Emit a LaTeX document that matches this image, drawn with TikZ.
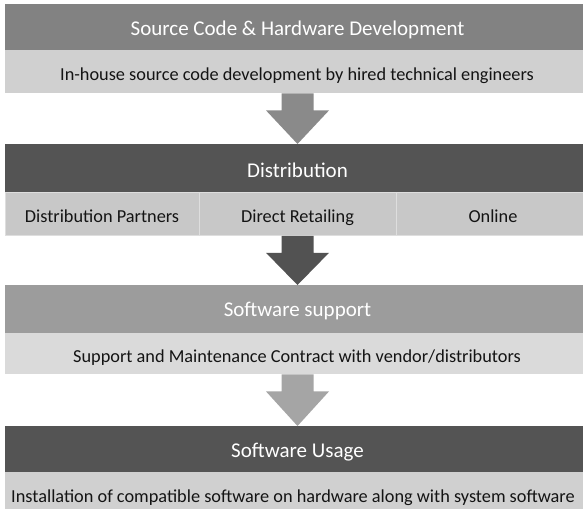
\documentclass[tikz,border=0pt]{standalone}
\usepackage{fontspec}
\setmainfont{Carlito}
\usetikzlibrary{calc}
\definecolor{hOne}{RGB}{130,130,130}
\definecolor{sOne}{RGB}{208,208,208}
\definecolor{aOne}{RGB}{138,138,138}
\definecolor{hTwo}{RGB}{84,84,84}
\definecolor{sTwo}{RGB}{200,200,200}
\definecolor{aTwo}{RGB}{82,82,82}
\definecolor{hThree}{RGB}{156,156,156}
\definecolor{sThree}{RGB}{218,218,218}
\definecolor{aThree}{RGB}{165,165,165}
\definecolor{hFour}{RGB}{84,84,84}
\definecolor{sFour}{RGB}{208,208,208}
\definecolor{cellline}{RGB}{222,222,222}
\definecolor{txt}{RGB}{20,20,20}
\begin{document}
\begin{tikzpicture}[x=1pt,y=-1pt,
  box/.style={rectangle, draw=none, inner sep=0pt, anchor=north west, minimum width=578pt},
  cell/.style={rectangle, draw=cellline, line width=0.8pt, inner sep=0pt, anchor=north west},
  htext/.style={text=white, font=\fontsize{21}{24}\selectfont, inner sep=0pt, anchor=base},
  stext/.style={text=txt, font=\fontsize{18.3}{21}\selectfont, inner sep=0pt, anchor=base},
  flow/.style={draw=none}]
\useasboundingbox (0,0) rectangle (583,509);
\fill[white] (0,0) rectangle (583,509);
\coordinate (cx) at (297.5,0);
% boxes
\node[box, fill=hOne, minimum height=45.5pt] (h1) at (5,4) {};
\node[box, fill=sOne, minimum height=43.5pt] (s1) at (5,49.5) {};
\node[box, fill=hTwo, minimum height=48pt] (h2) at (5,144) {};
\node[cell, fill=sTwo, minimum width=194pt, minimum height=43pt] (c1) at (5,192) {};
\node[cell, fill=sTwo, minimum width=197pt, minimum height=43pt] (c2) at (199,192) {};
\node[cell, fill=sTwo, minimum width=190pt, minimum height=43pt] (c3) at (396,192) {};
\node[box, fill=hThree, minimum height=49pt] (h3) at (5,285) {};
\node[box, fill=sThree, minimum height=41pt] (s3) at (5,333) {};
\node[box, fill=hFour, minimum height=46pt] (h4) at (5,426) {};
\node[box, fill=sFour, minimum height=37pt] (s4) at (5,472) {};
% texts
\node[htext] (t1) at (297.5,35) {Source Code \& Hardware Development};
\node[stext] (u1) at (297,80) {In-house source code development by hired technical engineers};
\node[htext] (t2) at (297.5,177) {Distribution};
\node[stext] (u21) at (102,222) {Distribution Partners};
\node[stext] (u22) at (297.5,222) {Direct Retailing};
\node[stext] (u23) at (493,222) {Online};
\node[htext] (t3) at (297.5,316.5) {Software support};
\node[stext] (u3) at (297,362) {Support and Maintenance Contract with vendor/distributors};
\node[htext] (t4) at (297.5,457) {Software Usage};
\node[stext] (u4) at (293,502) {Installation of compatible software on hardware along with system software};
% arrows
\path (s1.south -| cx) coordinate (a1s) (h2.north -| cx) coordinate (a1e);
\fill[aOne] ($(a1s)+(-16,0)$) -- ($(a1s)+(16,0)$) -- ($(a1s)+(16,17)$) -- ($(a1s)+(31.5,17)$) -- (a1e) -- ($(a1s)+(-31.5,17)$) -- ($(a1s)+(-16,17)$) -- cycle;
\path (c2.south -| cx) coordinate (a2s) (h3.north -| cx) coordinate (a2e);
\fill[aTwo] ($(a2s)+(-16,0)$) -- ($(a2s)+(16,0)$) -- ($(a2s)+(16,17)$) -- ($(a2s)+(31.5,17)$) -- (a2e) -- ($(a2s)+(-31.5,17)$) -- ($(a2s)+(-16,17)$) -- cycle;
\path (s3.south -| cx) coordinate (a3s) (h4.north -| cx) coordinate (a3e);
\fill[aThree] ($(a3s)+(-16,0)$) -- ($(a3s)+(16,0)$) -- ($(a3s)+(16,17)$) -- ($(a3s)+(31.5,17)$) -- (a3e) -- ($(a3s)+(-31.5,17)$) -- ($(a3s)+(-16,17)$) -- cycle;
\end{tikzpicture}
\end{document}
